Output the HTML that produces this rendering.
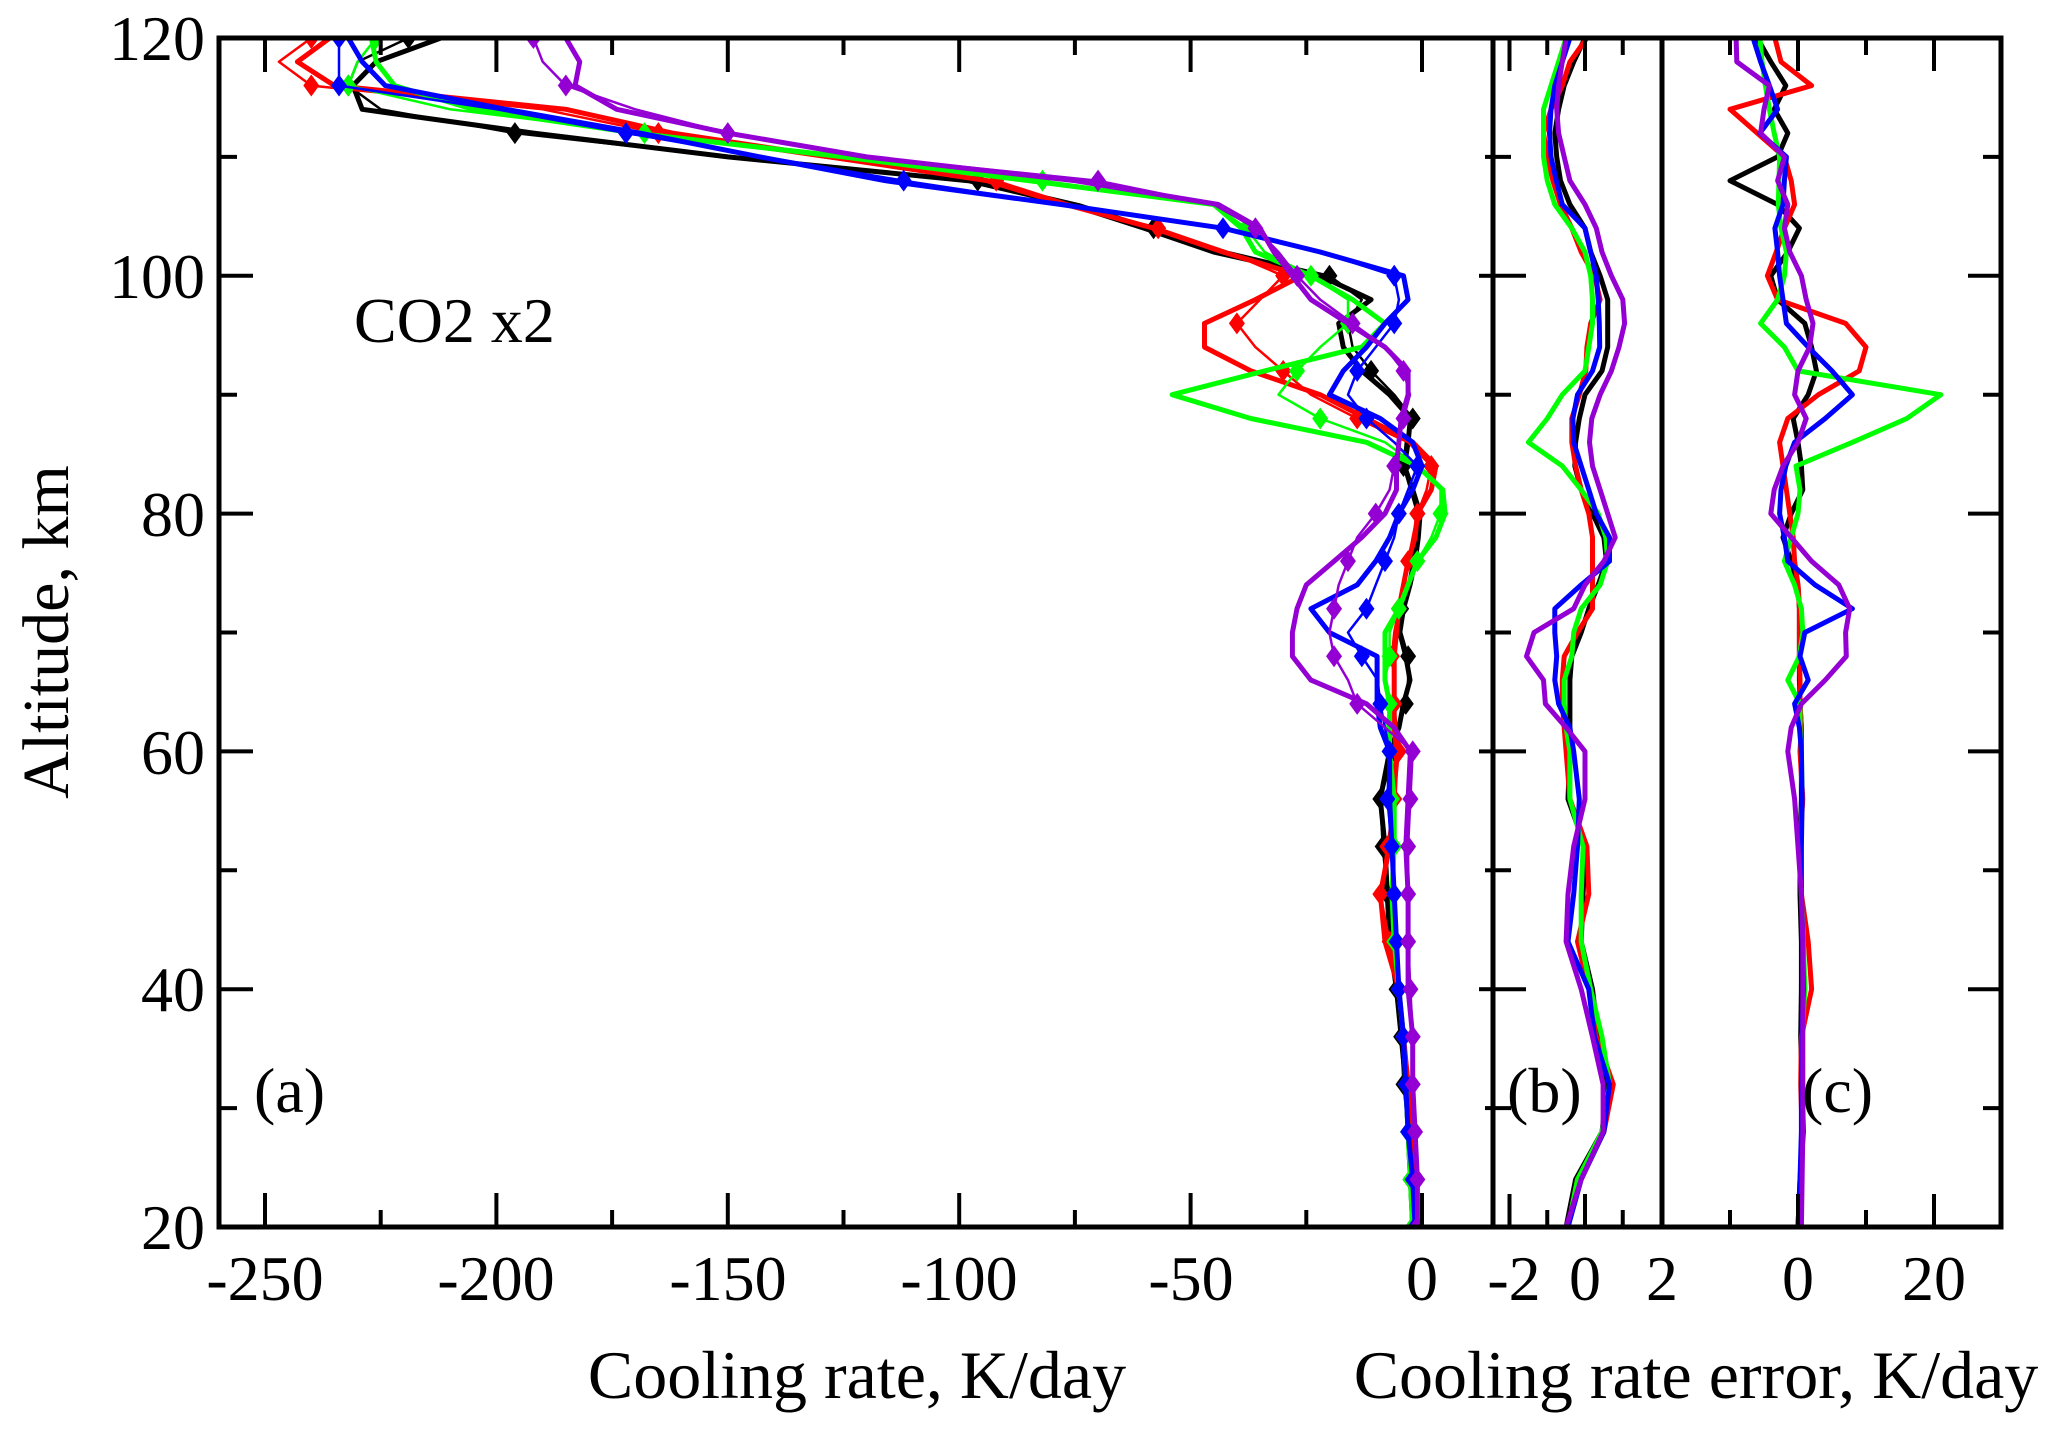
<!DOCTYPE html>
<html><head><meta charset="utf-8"><style>
html,body{margin:0;padding:0;background:#fff;}
svg{display:block;}
text{font-family:"Liberation Serif",serif;fill:#000;}
</style></head><body>
<svg id="chart" width="2067" height="1429" viewBox="0 0 2067 1429" xmlns="http://www.w3.org/2000/svg">
<defs>
<clipPath id="clipA"><rect x="219" y="38" width="1274" height="1189"/></clipPath>
<clipPath id="clipB"><rect x="1493" y="38" width="169" height="1189"/></clipPath>
<clipPath id="clipC"><rect x="1662" y="38" width="339" height="1189"/></clipPath>
</defs>
<g id="series"></g>
<g id="axes"></g>
<text x="205" y="60" text-anchor="end" font-size="64">120</text>
<text x="205" y="298" text-anchor="end" font-size="64">100</text>
<text x="205" y="536" text-anchor="end" font-size="64">80</text>
<text x="205" y="774" text-anchor="end" font-size="64">60</text>
<text x="205" y="1011" text-anchor="end" font-size="64">40</text>
<text x="205" y="1249" text-anchor="end" font-size="64">20</text>
<text transform="translate(68,632) rotate(-90)" text-anchor="middle" font-size="66">Altitude, km</text>
<text x="265" y="1300" text-anchor="middle" font-size="64">-250</text>
<text x="496" y="1300" text-anchor="middle" font-size="64">-200</text>
<text x="728" y="1300" text-anchor="middle" font-size="64">-150</text>
<text x="959" y="1300" text-anchor="middle" font-size="64">-100</text>
<text x="1191" y="1300" text-anchor="middle" font-size="64">-50</text>
<text x="1422" y="1300" text-anchor="middle" font-size="64">0</text>
<text x="1514" y="1300" text-anchor="middle" font-size="64">-2</text>
<text x="1585" y="1300" text-anchor="middle" font-size="64">0</text>
<text x="1662" y="1300" text-anchor="middle" font-size="64">2</text>
<text x="1798" y="1300" text-anchor="middle" font-size="64">0</text>
<text x="1934" y="1300" text-anchor="middle" font-size="64">20</text>
<text x="857" y="1398" text-anchor="middle" font-size="68">Cooling rate, K/day</text>
<text x="1696" y="1398" text-anchor="middle" font-size="68">Cooling rate error, K/day</text>
<text x="354" y="342" font-size="64">CO2 x2</text>
<text x="254" y="1112" font-size="64">(a)</text>
<text x="1507" y="1112" font-size="64">(b)</text>
<text x="1802" y="1112" font-size="64">(c)</text>
</svg>
<script>
const altitudes = [20,24,28,32,36,40,44,48,52,56,60,62,64,66,68,70,72,74,76,78,80,82,84,86,88,90,92,94,96,98,100,102,104,106,108,110,112,114,116,118,120];
const aBlack = [-2,-2.5,-3,-3.5,-4.5,-5.5,-7,-7.5,-8,-9,-7,-5,-4,-2.6,-3.5,-4.8,-4,-2.6,-1.5,-0.8,-0.4,-2,-3.8,-3,-2.5,-7,-13,-17,-18,-11,-22,-45,-60,-76,-98,-150,-192,-229,-231,-226,-212];
const aBlackThin = [-2,-2.5,-3,-4,-4.5,-5.5,-6.5,-7.5,-8.5,-9,-6,-5,-3.5,-3,-3,-4.5,-4.5,-3,-2,-1,-1,-2.5,-4,-3.5,-2,-6,-11,-15,-16,-13,-20,-42,-58,-74,-96,-150,-196,-225,-232,-230,-219];
const aRed = [-1,-2,-2.5,-3,-4,-5,-8,-9,-7,-6,-5.5,-6,-6,-6,-6,-5.5,-5,-4,-3,-1.5,-1,2,3,-2,-12,-22,-37,-47,-47,-36,-26,-43,-58,-77,-94,-128,-162,-185,-235,-243,-236];
const aRedThin = [-1,-2,-2.5,-3,-4,-5,-7,-9,-7.5,-6,-5,-5.5,-6,-6,-6.5,-6,-5,-4,-3,-2,-1,1,2,-3,-14,-24,-30,-36,-40,-35,-30,-42,-57,-76,-92,-130,-165,-190,-240,-247,-240];
const aGreen = [-2,-2.5,-3,-3.5,-4,-5,-6,-6.5,-6,-6,-7,-7,-7,-8,-8,-8,-5,-3,-1,3,5,4.5,-1,-12,-37,-54,-34,-13,-8,-15,-24,-36,-39,-45,-85,-125,-170,-205,-222,-226,-227];
const aGreenThin = [-2,-2.5,-3,-3.5,-4,-5,-6,-6,-6,-6.5,-7,-7.5,-7,-8,-7,-7,-5,-3,-1,2,4,4,-1,-8,-22,-31,-27,-22,-16,-16,-24,-34,-38,-45,-82,-122,-168,-210,-232,-230,-226];
const aBlue = [-1.5,-2,-3,-3.5,-4,-5,-5.5,-6,-6.5,-7,-7,-9,-9.7,-9.7,-9.7,-20,-24,-14,-10,-7,-5,-2,0,-2,-9,-20,-17,-12,-8,-3,-4,-22,-43,-78,-116,-143,-169,-198,-224,-229,-232];
const aBlueThin = [-1.5,-2,-3,-3.5,-4,-5,-5.5,-6,-6.5,-7.5,-7,-8,-9,-9.6,-13,-16,-12,-10,-8,-6,-5,-3,-1,-6,-12,-16,-14,-10,-6,-5,-6,-22,-43,-78,-112,-142,-172,-200,-234,-234,-234];
const aPurple = [-1,-1,-1.5,-2,-2,-3,-3,-3,-3.5,-3,-2.5,-6,-12,-24,-28,-28,-27,-25,-19,-13,-8,-5.5,-5.5,-5,-4.5,-3,-3,-8,-16,-24,-28,-32,-35,-44,-75,-120,-150,-174,-183,-182,-185];
const aPurpleThin = [-1,-1,-1.5,-2,-2,-2.5,-3,-3,-3,-2.5,-2,-8,-14,-16,-19,-20,-19,-18,-16,-14,-10,-7,-6,-5,-4,-2.6,-4,-8,-15,-22,-27,-31,-36,-45,-70,-120,-150,-170,-185,-190,-192];
const bBlack = [-0.5,-0.25,0.45,0.6,0.35,0.2,-0.1,-0.05,0,-0.45,-0.4,-0.4,-0.4,-0.4,-0.35,-0.1,0.1,0.35,0.57,0.5,0.2,-0.1,-0.27,-0.25,-0.15,0,0.45,0.6,0.6,0.6,0.4,0.15,0,-0.4,-0.65,-0.75,-0.8,-0.7,-0.55,-0.3,0];
const bRed = [-0.45,-0.2,0.5,0.75,0.3,0.1,-0.2,0.1,0.05,-0.4,-0.5,-0.55,-0.6,-0.6,-0.55,-0.2,0.2,0.2,0.2,0.2,0.1,-0.1,-0.25,-0.35,-0.35,-0.15,0.02,0.05,0.15,0.4,0.25,-0.1,-0.35,-0.65,-0.85,-1.0,-1.1,-0.9,-0.6,-0.4,0.05];
const bGreen = [-0.45,-0.2,0.45,0.65,0.45,0.15,-0.1,-0.1,-0.05,-0.4,-0.4,-0.5,-0.55,-0.55,-0.35,-0.3,-0.1,0.4,0.6,0.55,0.35,-0.1,-0.6,-1.5,-1.0,-0.6,0,0.1,0.2,0.2,0.15,0,-0.35,-0.8,-1.0,-1.1,-1.1,-1.1,-0.9,-0.7,-0.5];
const bBlue = [-0.45,-0.1,0.5,0.65,0.25,0.1,-0.45,-0.3,-0.2,-0.15,-0.3,-0.4,-0.7,-0.8,-0.75,-0.8,-0.8,-0.1,0.65,0.65,0.3,0.1,-0.1,-0.3,-0.32,-0.2,0.2,0.39,0.38,0.35,0.3,0.15,0,-0.6,-0.76,-0.9,-0.94,-0.9,-0.8,-0.6,-0.4];
const bPurple = [-0.5,-0.1,0.48,0.48,0.2,-0.1,-0.5,-0.45,-0.3,0,0,-0.5,-1.05,-1.1,-1.55,-1.35,-0.3,0,0.5,0.8,0.6,0.4,0.2,0.12,0.18,0.4,0.7,0.9,1.05,1.0,0.7,0.45,0.3,0,-0.4,-0.55,-0.7,-0.75,-0.7,-0.6,-0.5];
const cBlack = [0,0.3,0.8,0.6,0.4,0.5,0.5,0.3,0.3,0.5,0.5,0.5,0.3,0.2,0.2,0.2,0.2,0,-1,-2.2,-1,0.7,0.5,0,-0.7,1.5,2.7,2,1,-3,-4,-1.5,0.2,-3,-10,-3,-1.5,-3.5,-1.8,-4,-6];
const cRed = [0,0.5,0.6,0.4,0.5,2,1.5,0.5,0.3,0.7,0.3,0.5,0.3,0.3,0.2,0.2,0.2,0,-0.5,-0.7,-1.2,-1.7,-2.2,-2.7,-1.5,3,9,10,7,-3,-4.5,-3.2,-2,-0.5,-1,-2,-6,-10,2,-2.5,-3.4];
const cGreen = [0,0.4,0.6,0.5,0.6,1,0.8,0.5,0.4,0.6,0.5,0.3,0.3,-1.5,0.2,0.7,0.5,-0.5,-2,-1,0,0.3,-0.3,8,16,21,0,-2,-5.5,-3,-2,-1.7,-2.5,-2.9,-2.8,-2.7,-3.5,-4.2,-4.8,-5.3,-5.6];
const cBlue = [0,0.3,0.5,0.5,0.6,0.8,0.7,0.5,0.5,0.6,0.5,0.2,-0.5,1.5,0.3,1,8,2.5,-1.5,-2,-2.7,-2.5,-1.8,-0.5,4,8,5,1.5,-1.7,-2.2,-2.7,-3,-3.4,-2.2,-2,-1.7,-5.6,-3,-4.2,-5.5,-6.6];
const cPurple = [0.5,0.6,0.7,0.7,0.7,0.7,0.7,0.5,0,-0.5,-1.5,-1,0.5,4,7.1,7,7.6,6,2,-1,-4,-3.5,-2.2,0,1.2,-0.5,0,1.7,2.2,1.2,0.5,-1.2,-2,-1.5,-3,-2,-5.5,-5,-4.2,-9,-9.1];
const xTicksA = [-250,-200,-150,-100,-50,0];
const xTicksB = [-2,0,2];
const xTicksC = [-20,0,20];
const yTicks = [20,40,60,80,100,120];

const NS = "http://www.w3.org/2000/svg";
const TOP = 38, BOT = 1227;
function yScale(a){ return BOT - (a - 20) * (BOT - TOP) / 100; }
function xA(v){ return 1422 + v * 4.628; }
function xB(v){ return 1585 + v * 37.75; }
function xC(v){ return 1798 + v * 6.8; }
const COLORS = {black:"#000000", red:"#ff0000", green:"#00ff00", blue:"#0000ff", purple:"#9400d3"};
const seriesLayer = document.getElementById("series");
const axesLayer = document.getElementById("axes");

function mk(tag, attrs, parent){
  const el = document.createElementNS(NS, tag);
  for (const k in attrs) el.setAttribute(k, attrs[k]);
  parent.appendChild(el);
  return el;
}
function drawLine(vals, xf, color, width, clip, name, markers){
  const g = mk("g", {"clip-path":"url(#" + clip + ")"}, seriesLayer);
  
  
  let d = "";
  vals.forEach((v, i) => { d += (i ? "L" : "M") + xf(v).toFixed(1) + "," + yScale(altitudes[i]).toFixed(1); });
  const p = mk("path", {d: d, fill: "none", stroke: color, "stroke-width": width, "stroke-linejoin": "round"}, g);
  
  
  if (markers){
    vals.forEach((v, i) => {
      if (altitudes[i] % 4 !== 0) return;
      const cx = xf(v), cy = yScale(altitudes[i]);
      const m = mk("path", {d: "M" + cx + "," + (cy - 11) + "L" + (cx + 8) + "," + cy + "L" + cx + "," + (cy + 11) + "L" + (cx - 8) + "," + cy + "Z", fill: color}, g);
      
      
    });
  }
}
const order = ["black","red","green","blue","purple"];
const aThick = {black:aBlack, red:aRed, green:aGreen, blue:aBlue, purple:aPurple};
const aThin = {black:aBlackThin, red:aRedThin, green:aGreenThin, blue:aBlueThin, purple:aPurpleThin};
const bVals = {black:bBlack, red:bRed, green:bGreen, blue:bBlue, purple:bPurple};
const cVals = {black:cBlack, red:cRed, green:cGreen, blue:cBlue, purple:cPurple};
order.forEach(c => {
  drawLine(aThin[c], xA, COLORS[c], 2.5, "clipA", "panel-a-" + c + "-thin", true);
  drawLine(aThick[c], xA, COLORS[c], 5, "clipA", "panel-a-" + c + "-thick", false);
});
order.forEach(c => { drawLine(bVals[c], xB, COLORS[c], 5, "clipB", "panel-b-" + c, false); });
order.forEach(c => { drawLine(cVals[c], xC, COLORS[c], 5, "clipC", "panel-c-" + c, false); });

function tick(x1, y1, x2, y2, name){
  const l = mk("line", {x1:x1, y1:y1, x2:x2, y2:y2, stroke:"#000", "stroke-width":4}, axesLayer);
  
  
}
[[219,1493,"panel-a-frame"],[1493,1662,"panel-b-frame"],[1662,2001,"panel-c-frame"]].forEach(f => {
  const r = mk("rect", {x:f[0], y:TOP, width:f[1]-f[0], height:BOT-TOP, fill:"none", stroke:"#000", "stroke-width":5}, axesLayer);
  
  
});
for (let a = 20; a <= 120; a += 10){
  const major = yTicks.indexOf(a) >= 0;
  const y = yScale(a);
  tick(219, y, 219 + (major ? 34 : 18), y, "y-tick-mark-a");
  tick(1493, y, 1493 - (major ? 14 : 8), y, "y-tick-mark-a-right");
  tick(1493, y, 1493 + (major ? 33 : 18), y, "y-tick-mark-b");
  tick(2001, y, 2001 - (major ? 33 : 18), y, "y-tick-mark-c-right");
}
for (let v = -250; v <= 0; v += 25){
  const major = xTicksA.indexOf(v) >= 0;
  const x = xA(v), L = major ? 34 : 17;
  tick(x, BOT, x, BOT - L, "x-tick-mark-a");
  tick(x, TOP, x, TOP + L, "x-tick-mark-a-top");
}
for (let v = -2; v <= 1; v += 1){
  const major = xTicksB.indexOf(v) >= 0;
  const x = xB(v), L = major ? 33 : 17;
  tick(x, BOT, x, BOT - L, "x-tick-mark-b");
  tick(x, TOP, x, TOP + L, "x-tick-mark-b-top");
}
for (let v = -10; v <= 20; v += 10){
  const major = xTicksC.indexOf(v) >= 0;
  const x = xC(v), L = major ? 33 : 17;
  tick(x, BOT, x, BOT - L, "x-tick-mark-c");
  tick(x, TOP, x, TOP + L, "x-tick-mark-c-top");
}
</script>
</body></html>
